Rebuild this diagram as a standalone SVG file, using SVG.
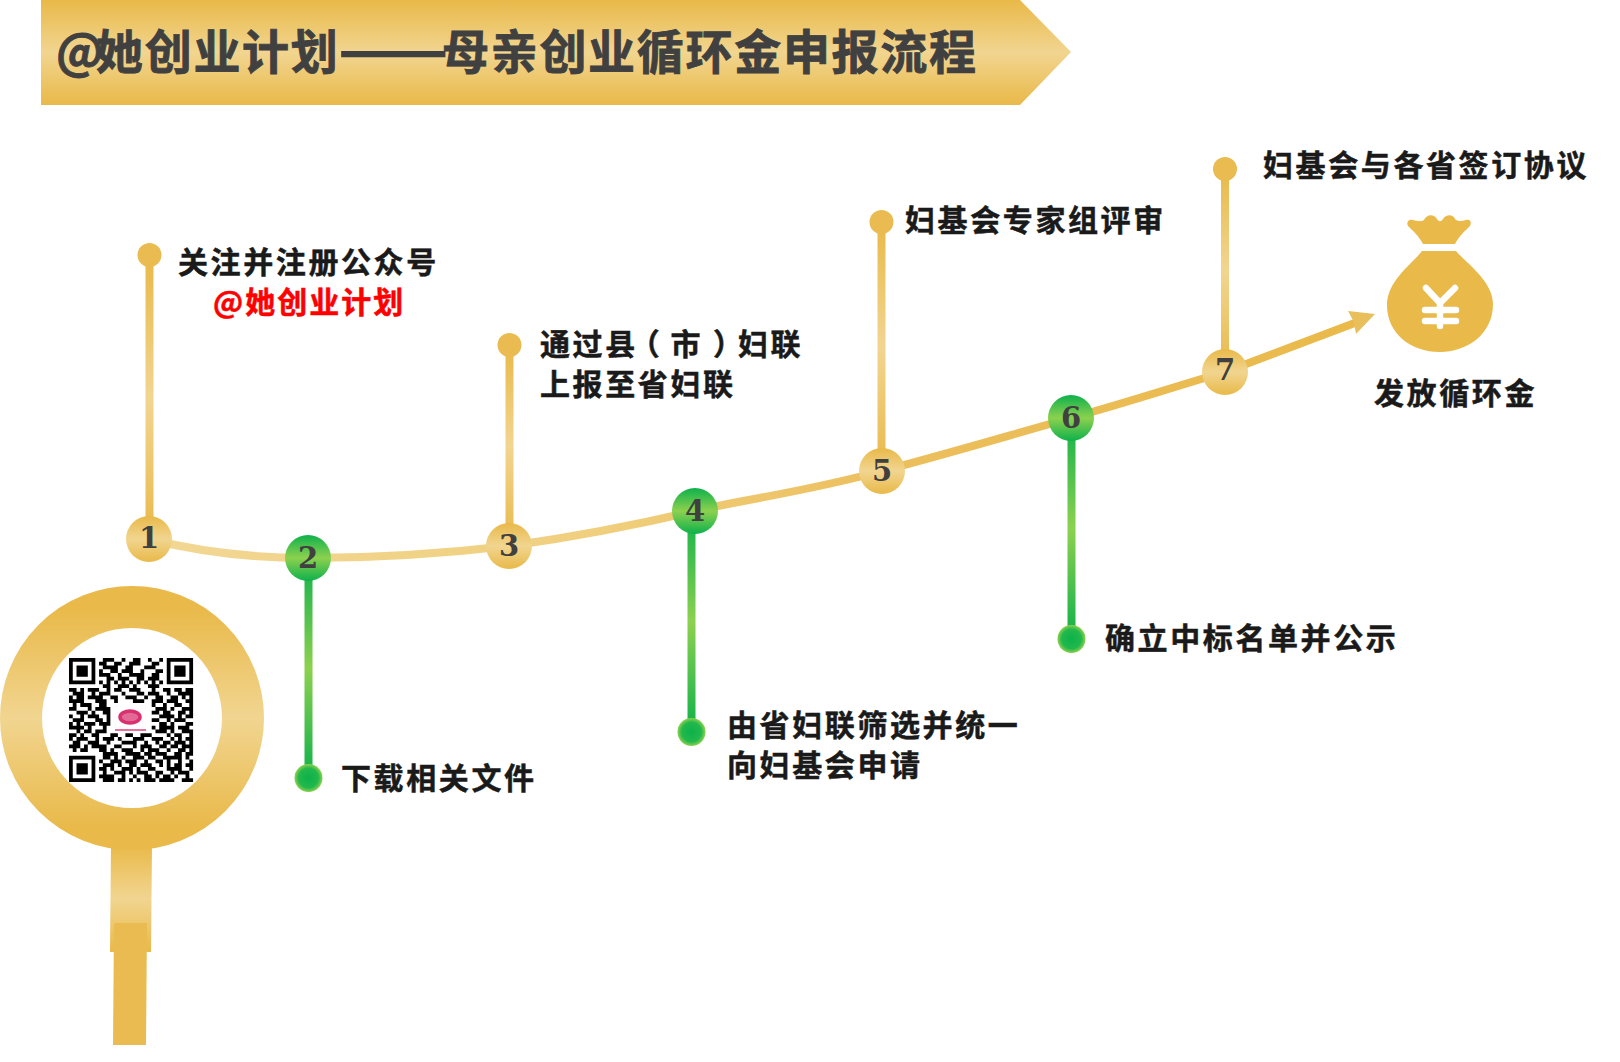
<svg xmlns="http://www.w3.org/2000/svg" width="1620" height="1062" viewBox="0 0 1620 1062">
<style>
text{font-family:"Noto Sans CJK SC","Noto Sans",sans-serif;font-weight:700}
.t{font-size:30px;letter-spacing:2.6px;fill:#1a1a1a;stroke:#1a1a1a;stroke-width:.5px}
.h{font-size:47px;letter-spacing:1.7px;fill:#404040;stroke:#404040;stroke-width:.8px}
.n{font-family:"DejaVu Serif",serif;font-size:29px;font-weight:700;fill:#404040;text-anchor:middle}
</style>
<defs>
<linearGradient id="g" x1="0" y1="0" x2="0" y2="1"><stop offset="0" stop-color="#e9b949"/><stop offset=".5" stop-color="#f1d590"/><stop offset="1" stop-color="#e9b949"/></linearGradient>
<linearGradient id="v" x1="0" y1="0" x2="0" y2="1"><stop offset="0" stop-color="#0db14b"/><stop offset=".5" stop-color="#8dd14f"/><stop offset="1" stop-color="#0db14b"/></linearGradient>
<linearGradient id="cv" gradientUnits="userSpaceOnUse" x1="149" y1="0" x2="1375" y2="0"><stop offset="0" stop-color="#f2d794"/><stop offset=".35" stop-color="#f0d07f"/><stop offset=".6" stop-color="#ecbf5e"/><stop offset="1" stop-color="#e9b949"/></linearGradient>
<radialGradient id="gd"><stop offset="0" stop-color="#0db14b"/><stop offset=".7" stop-color="#22b84c"/><stop offset="1" stop-color="#8dd14f"/></radialGradient>
<filter id="b" x="-5%" y="-5%" width="110%" height="110%"><feGaussianBlur stdDeviation=".14"/></filter>
</defs>
<g id="banner"><path d="M41 0H1020L1071 52L1020 105H41Z" fill="url(#g)"/>
<text class="h" y="69" x="56 96 144.700 193.400 242.100 290.800">@她创业计划<tspan x="338" y="73" font-size="65" stroke-width="0">——</tspan><tspan x="442" y="69">母亲创业循环金申报流程</tspan></text></g>
<g id="connectors" fill="none">
<path d="M149 539C200 552 250 558 308 558C380 558 440 554 509 546C580 536 640 524 695 511S800 493 882 471S1000 438 1071 418S1170 388 1225 372L1360 321" stroke="url(#cv)" stroke-width="8"/>
<path d="M1375 314L1348 311L1354 322L1356 334Z" fill="#e9bf5c"/>
<rect x="145.500" y="255" width="8" height="284" fill="url(#g)"/>
<rect x="505.500" y="345" width="8" height="201" fill="url(#g)"/>
<rect x="877.500" y="222" width="8" height="249" fill="url(#g)"/>
<rect x="1221" y="169" width="8" height="203" fill="url(#g)"/>
<rect x="304.500" y="558" width="8" height="220" fill="url(#v)"/>
<rect x="687.500" y="511" width="8" height="221" fill="url(#v)"/>
<rect x="1067.500" y="418" width="8" height="221" fill="url(#v)"/>
</g>
<g id="dots"><circle cx="149.500" cy="255" r="12" fill="#e9bb50"/><circle cx="509.500" cy="345" r="12" fill="#e9bb50"/><circle cx="881.500" cy="222" r="12" fill="#e9bb50"/><circle cx="1225" cy="169" r="12" fill="#e9bb50"/><circle cx="308.500" cy="778" r="14" fill="url(#gd)"/><circle cx="691.500" cy="732" r="14" fill="url(#gd)"/><circle cx="1071.500" cy="639" r="14" fill="url(#gd)"/></g>
<g id="node1"><circle cx="149" cy="539" r="23" fill="url(#g)"/><text class="n" x="149" y="548">1</text></g>
<g id="node2"><circle cx="308" cy="558" r="23" fill="url(#v)"/><text class="n" x="308" y="568">2</text></g>
<g id="node3"><circle cx="509" cy="546" r="23" fill="url(#g)"/><text class="n" x="509" y="556">3</text></g>
<g id="node4"><circle cx="695" cy="511" r="23" fill="url(#v)"/><text class="n" x="695" y="521">4</text></g>
<g id="node5"><circle cx="882" cy="471" r="23" fill="url(#g)"/><text class="n" x="882" y="481">5</text></g>
<g id="node6"><circle cx="1071" cy="418" r="23" fill="url(#v)"/><text class="n" x="1071" y="428">6</text></g>
<g id="node7"><circle cx="1225" cy="372" r="23" fill="url(#g)"/><text class="n" x="1225" y="380">7</text></g>
<g id="labels">
<text class="t" x="178" y="273">关注并注册公众号</text>
<text class="t" x="213" y="313" style="fill:#f00;stroke:#f00;letter-spacing:2px">@她创业计划</text>
<text class="t" y="355" x="540 572.600 605.200 629.800 670.400 713 738 770.600">通过县（市）妇联</text>
<text class="t" x="540" y="395">上报至省妇联</text>
<text class="t" x="905" y="231">妇基会专家组评审</text>
<text class="t" x="1263" y="176">妇基会与各省签订协议</text>
<text class="t" x="341" y="789">下载相关文件</text>
<text class="t" x="727" y="736">由省妇联筛选并统一</text>
<text class="t" x="727" y="776">向妇基会申请</text>
<text class="t" x="1105" y="649">确立中标名单并公示</text>
<text class="t" x="1374" y="404">发放循环金</text>
</g>
<g id="bag" fill="#e9b949"><path d="M1423 244C1419 236 1412 230 1408 226C1406 222 1409 219 1413 220C1417 221 1421 222 1424 220C1427 214 1434 214 1437 219C1439 222 1441 222 1443 219C1446 214 1453 214 1455 219C1458 222 1462 221 1466 220C1470 219 1472 222 1470 226C1466 230 1459 236 1455 244Z"/>
<path d="M1422 251H1456C1466 263 1493 281 1493 304C1493 335 1466 352 1440 352C1410 352 1387 333 1387 305C1387 281 1412 264 1422 251Z"/>
<path d="M1426 288L1440 303L1455 288M1440 303V326M1425 310H1456M1425 321H1456" fill="none" stroke="#fff" stroke-width="6.500" stroke-linecap="round"/></g>
<g id="magnifier">
<path d="M111 845H152L151 952H110Z" fill="url(#g)"/>
<path d="M114 923H147L146 1045H113Z" fill="#e9bb50"/>
<circle cx="132" cy="718" r="111" fill="none" stroke="url(#g)" stroke-width="42"/>
</g>
<g id="qr" transform="translate(69 658) scale(3.76)" filter="url(#b)">
<path d="M0 0h7v7h-7zM1 1v5h5v-5zM2 2h3v3h-3zM26 0h7v7h-7zM27 1v5h5v-5zM28 2h3v3h-3zM0 26h7v7h-7zM1 27v5h5v-5zM2 28h3v3h-3z" fill="#000" fill-rule="evenodd"/>
<path fill="none" stroke="#000" stroke-width="1" d="M9 .5h3M14 .5h1M17 .5h2M21 .5h1M24 .5h1M8 1.500h2M12 1.500h2M16 1.500h3M22 1.500h2M9 2.500h4M15 2.500h2M20 2.500h3M8 3.500h1M11 3.500h2M14 3.500h3M19 3.500h1M23 3.500h2M8 4.500h3M13 4.500h1M16 4.500h4M22 4.500h2M10 5.500h2M13 5.500h3M18 5.500h2M21 5.500h3M8 6.500h1M10 6.500h1M12 6.500h1M14 6.500h1M16 6.500h1M18 6.500h1M20 6.500h1M22 6.500h1M24 6.500h1M9 7.500h2M13 7.500h3M17 7.500h1M21 7.500h3M0 8.500h2M3 8.500h1M5 8.500h3M10 8.500h1M12 8.500h2M16 8.500h3M22 8.500h1M25 8.500h2M28 8.500h2M31 8.500h2M1 9.500h3M6 9.500h1M8 9.500h3M14 9.500h1M18 9.500h2M21 9.500h3M26 9.500h1M29 9.500h4M0 10.500h1M2 10.500h2M5 10.500h4M11 10.500h2M15 10.500h3M20 10.500h1M23 10.500h2M27 10.500h2M30 10.500h1M32 10.500h1M0 11.500h4M7 11.500h3M12 11.500h1M17 11.500h3M22 11.500h3M26 11.500h3M31 11.500h2M1 12.500h1M3 12.500h3M8 12.500h2M22 12.500h1M25 12.500h1M28 12.500h2M32 12.500h1M0 13.500h2M5 13.500h1M7 13.500h4M23 13.500h3M27 13.500h1M30 13.500h3M2 14.500h3M6 14.500h1M9 14.500h2M22 14.500h2M25 14.500h2M29 14.500h2M32 14.500h1M0 15.500h1M3 15.500h1M5 15.500h3M10 15.500h1M24 15.500h4M29 15.500h1M31 15.500h2M1 16.500h3M7 16.500h2M10 16.500h1M22 16.500h2M26 16.500h1M28 16.500h3M0 17.500h1M2 17.500h1M4 17.500h3M8 17.500h3M24 17.500h2M27 17.500h1M31 17.500h2M0 18.500h4M5 18.500h1M9 18.500h1M22 18.500h1M24 18.500h4M29 18.500h3M2 19.500h1M4 19.500h2M7 19.500h3M23 19.500h3M27 19.500h1M30 19.500h3M0 20.500h2M3 20.500h1M6 20.500h2M11 20.500h2M15 20.500h2M19 20.500h3M26 20.500h1M28 20.500h2M32 20.500h1M0 21.500h1M2 21.500h3M7 21.500h1M9 21.500h3M13 21.500h1M17 21.500h3M22 21.500h3M27 21.500h1M29 21.500h1M31 21.500h2M1 22.500h2M5 22.500h3M10 22.500h1M14 22.500h4M20 22.500h1M23 22.500h1M25 22.500h2M28 22.500h3M32 22.500h1M0 23.500h3M4 23.500h1M6 23.500h4M12 23.500h2M17 23.500h1M19 23.500h3M24 23.500h2M27 23.500h2M30 23.500h3M1 24.500h1M3 24.500h2M8 24.500h2M11 24.500h1M14 24.500h3M19 24.500h1M21 24.500h3M26 24.500h1M29 24.500h2M32 24.500h1M9 25.500h4M15 25.500h4M20 25.500h2M23 25.500h3M28 25.500h2M31 25.500h2M9 26.500h2M12 26.500h1M14 26.500h1M17 26.500h3M21 26.500h2M25 26.500h5M31 26.500h1M8 27.500h1M11 27.500h3M15 27.500h3M20 27.500h1M23 27.500h2M26 27.500h1M29 27.500h1M32 27.500h1M9 28.500h3M13 28.500h1M16 28.500h2M19 28.500h3M24 28.500h1M26 28.500h1M28 28.500h2M31 28.500h2M8 29.500h2M11 29.500h1M14 29.500h3M18 29.500h1M21 29.500h2M26 29.500h4M32 29.500h1M9 30.500h1M12 30.500h3M16 30.500h1M18 30.500h3M23 30.500h2M27 30.500h1M29 30.500h3M8 31.500h4M14 31.500h1M17 31.500h1M20 31.500h2M23 31.500h1M25 31.500h2M28 31.500h1M31 31.500h1M9 32.500h3M13 32.500h2M16 32.500h1M18 32.500h1M20 32.500h3M24 32.500h4M30 32.500h3"/>
</g>
<g id="qrlogo"><ellipse cx="130" cy="717" rx="10" ry="6" fill="#e36a97" stroke="#d9306f" stroke-width="3.500"/><path d="M115 730H146" stroke="#e8709b" stroke-width="2" fill="none"/></g>
</svg>
